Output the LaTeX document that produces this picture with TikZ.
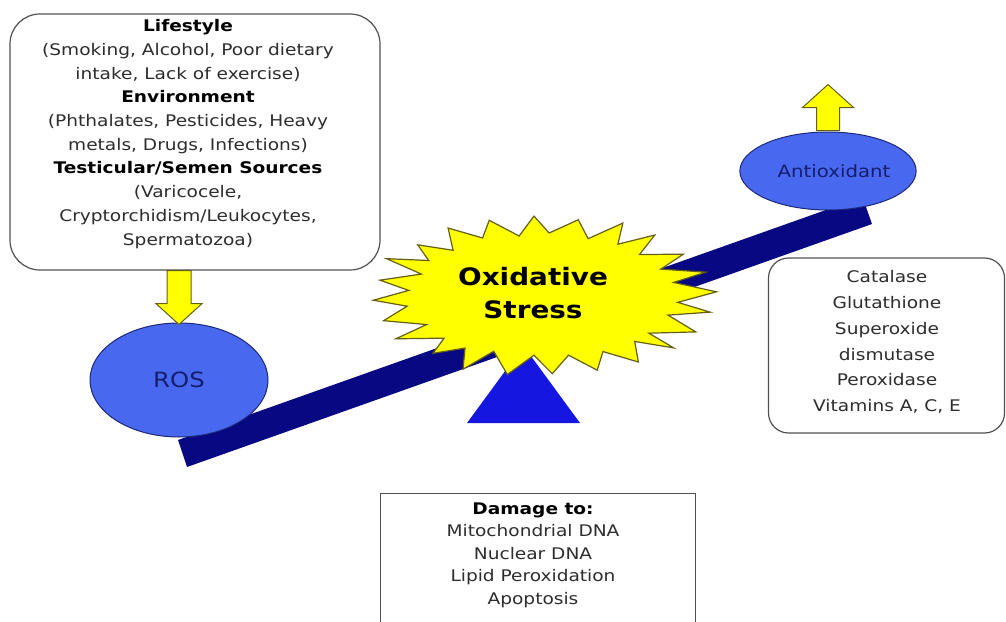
\documentclass[tikz,border=0pt]{standalone}
\usepackage{fontspec}
\setmainfont{DejaVu Sans}[FakeStretch=1.16]
\usetikzlibrary{calc,shapes.geometric}
\definecolor{yel}{RGB}{255,255,0}
\definecolor{yelline}{RGB}{100,95,20}
\definecolor{elfill}{RGB}{72,104,240}
\definecolor{elline}{RGB}{30,40,120}
\definecolor{eltext}{RGB}{20,30,110}
\definecolor{beamc}{RGB}{8,8,130}
\definecolor{tric}{RGB}{22,22,225}
\definecolor{boxline}{RGB}{80,80,80}
\definecolor{txt}{RGB}{45,45,45}
\begin{document}
\begin{tikzpicture}[x=1pt,y=-1pt,
  roundbox/.style={draw=boxline, line width=1.2pt, fill=white, inner sep=0pt},
  bodytxt/.style={align=center, text=txt, inner sep=0pt},
  burst/.style={fill=yel, draw=yelline, line width=1.2pt, line join=miter},
  yarrow/.style={fill=yel, draw=yelline, line width=1pt},
  oval/.style={ellipse, draw=elline, line width=1pt, fill=elfill, text=eltext, inner sep=0pt}]
\useasboundingbox (0,0) rectangle (1006,621);
\clip (0,0) rectangle (1006,621);
\fill[white] (0,0) rectangle (1006,621);

% lifestyle box
\node[roundbox, rounded corners=30pt, minimum width=370pt, minimum height=256pt] (lifebox) at (195,142) {};
\node[bodytxt, font=\fontsize{16}{23.7}\selectfont] (lifetxt) at (188,134)
 {\textcolor{black}{\textbf{Lifestyle}}\\(Smoking, Alcohol, Poor dietary\\intake, Lack of exercise)\\
  \textcolor{black}{\textbf{Environment}}\\(Phthalates, Pesticides, Heavy\\metals, Drugs, Infections)\\
  \textcolor{black}{\textbf{Testicular/Semen Sources}}\\(Varicocele,\\Cryptorchidism/Leukocytes,\\Spermatozoa)};

% beam
\fill[beamc] (178,440) -- (187,467) -- (872,224) -- (862.5,197) -- cycle;
% fulcrum
\fill[tric] (467,423) -- (580,423) -- (523.5,346) -- cycle;

% starburst
\pgfmathsetseed{11}
\draw[burst, shift={(543,296)}] (-93:173 and 80)
  \foreach \k in {0,...,22}{ -- ({-85.5+15*\k+4*(rnd-0.5)}:{173*(0.74+0.07*rnd)} and {80*(0.74+0.07*rnd)}) -- ({-78+15*\k}:{173*(0.95+0.08*rnd)} and {80*(0.95+0.08*rnd)}) }
  -- (259.5:131 and 61) -- cycle;
\node[font=\bfseries\fontsize{24}{33}\selectfont, align=center, inner sep=0pt] (ox) at (533,293) {Oxidative\\Stress};

% ellipses
\node[oval, minimum width=178pt, minimum height=114pt, font=\fontsize{21}{25}\selectfont] (ros) at (179,380) {ROS};
\node[oval, minimum width=170pt, minimum height=78pt, font=\fontsize{17}{20}\selectfont] (anti) at (828,171) {\hspace*{12pt}Antioxidant};

% yellow block arrows
\coordinate (dtop) at (lifebox.south -| ros.north);
\draw[yarrow] ($(dtop)+(-12,0)$) -- ($(dtop)+(12,0)$) -- ($(dtop)+(12,33)$) -- ($(dtop)+(23,33)$)
  -- ($(ros.north)+(0,2)$) -- ($(dtop)+(-23,33)$) -- ($(dtop)+(-12,33)$) -- cycle;
\draw[yarrow] ($(anti.north)+(-11.5,-1)$) -- ($(anti.north)+(-11.5,-24)$) -- ($(anti.north)+(-25.5,-24)$)
  -- ($(anti.north)+(0,-47)$) -- ($(anti.north)+(25.5,-24)$) -- ($(anti.north)+(11.5,-24)$) -- ($(anti.north)+(11.5,-1)$) -- cycle;

% antioxidant list box
\node[roundbox, rounded corners=20pt, minimum width=236pt, minimum height=175pt] (antibox) at (886.5,345.5) {};
\node[bodytxt, font=\fontsize{16}{25.8}\selectfont] (antitxt) at (887,342)
 {Catalase\\Glutathione\\Superoxide\\dismutase\\Peroxidase\\Vitamins A, C, E};

% damage box
\node[draw=boxline, line width=1.2pt, fill=white, minimum width=315pt, minimum height=160pt, anchor=north west, inner sep=0pt] (dmgbox) at (380,493) {};
\node[bodytxt, font=\fontsize{16}{22.5}\selectfont] (dmgtxt) at (533,555)
 {\textcolor{black}{\textbf{Damage to:}}\\Mitochondrial DNA\\Nuclear DNA\\Lipid Peroxidation\\Apoptosis};
\end{tikzpicture}
\end{document}
